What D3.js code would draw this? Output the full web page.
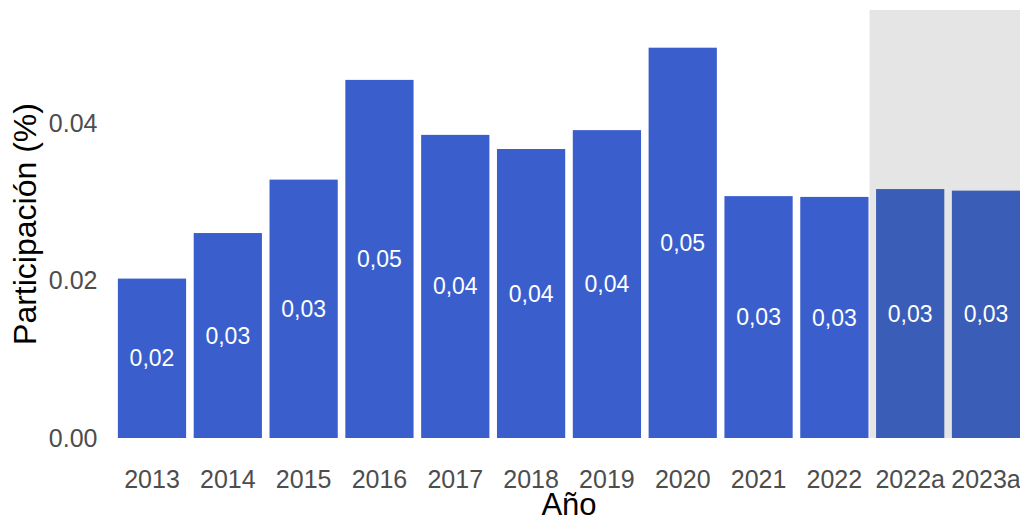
<!DOCTYPE html>
<html>
<head>
<meta charset="utf-8">
<script src="https://cdn.jsdelivr.net/npm/d3@7"></script>
<style>
  body { margin: 0; background: #fff; }
  svg { display: block; font-family: "Liberation Sans", Arial, sans-serif; }
</style>
</head>
<body>
<div id="chart"></div>
<script>
// data
const years = ["2013", "2014", "2015", "2016", "2017", "2018", "2019", "2020", "2021", "2022", "2022a", "2023a"];
const share = [0.0203, 0.0261, 0.0329, 0.0456, 0.0386, 0.0368, 0.0392, 0.0497, 0.0308, 0.0307, 0.0317, 0.0315];
const shaded = ["2022a", "2023a"];
const yTicks = [0, 0.02, 0.04];

const width = 1020;
const height = 522;
const panel = { left: 106.5, right: 1031.5, top: 10, bottom: 438 };

const fmtTick = d3.format(".2f");
const fmtLabel = d => d3.format(".2f")(d).replace(".", ",");

const x = d3.scaleBand()
    .domain(years)
    .range([panel.left, panel.right])
    .paddingInner(0.1)
    .paddingOuter(0.15);

const y = d3.scaleLinear()
    .domain([0, 0.0545])
    .range([panel.bottom, panel.top]);

const svg = d3.select("#chart").append("svg")
    .attr("width", width)
    .attr("height", height);

// grey area behind the estimated years
const x0 = x(shaded[0]) - x.step() * 0.1 + 1;
svg.append("rect")
    .attr("x", x0)
    .attr("y", panel.top)
    .attr("width", panel.right - x0)
    .attr("height", panel.bottom - panel.top)
    .attr("fill", "#e5e5e5");

const bars = svg.append("g")
    .selectAll("g")
    .data(years.map((d, i) => ({ year: d, value: share[i] })))
    .join("g");

bars.append("rect")
    .attr("x", d => x(d.year))
    .attr("y", d => y(d.value))
    .attr("width", x.bandwidth())
    .attr("height", d => y(0) - y(d.value))
    .attr("fill", d => shaded.includes(d.year) ? "#3a5db7" : "#3a5fcd");

bars.append("text")
    .attr("x", d => x(d.year) + x.bandwidth() / 2)
    .attr("y", d => y(d.value / 2))
    .attr("dy", "0.35em")
    .attr("text-anchor", "middle")
    .attr("fill", "#fff")
    .style("font-size", "23px")
    .text(d => fmtLabel(d.value));

// y axis labels (no line, no ticks)
const yAxis = svg.append("g")
    .attr("transform", `translate(${panel.left - 9},0)`)
    .call(d3.axisLeft(y).tickValues(yTicks).tickFormat(fmtTick).tickSize(0).tickPadding(0));
yAxis.select(".domain").remove();
yAxis.selectAll("text")
    .attr("fill", "#4d4d4d")
    .style("font-size", "25px")
    .style("font-family", "Liberation Sans, Arial, sans-serif");

// x axis labels
const xAxis = svg.append("g")
    .attr("transform", `translate(0,${panel.bottom + 32})`)
    .call(d3.axisBottom(x).tickSize(0).tickPadding(0));
xAxis.select(".domain").remove();
xAxis.selectAll("text")
    .attr("fill", "#4d4d4d")
    .style("font-size", "25px")
    .style("font-family", "Liberation Sans, Arial, sans-serif");

// titles
svg.append("text")
    .attr("x", (panel.left + panel.right) / 2)
    .attr("y", 515)
    .attr("text-anchor", "middle")
    .attr("fill", "#000")
    .style("font-size", "31px")
    .text("Año");

svg.append("text")
    .attr("transform", `translate(36,${(panel.top + panel.bottom) / 2}) rotate(-90)`)
    .attr("text-anchor", "middle")
    .attr("fill", "#000")
    .style("font-size", "32px")
    .text("Participación (%)");
</script>
</body>
</html>
